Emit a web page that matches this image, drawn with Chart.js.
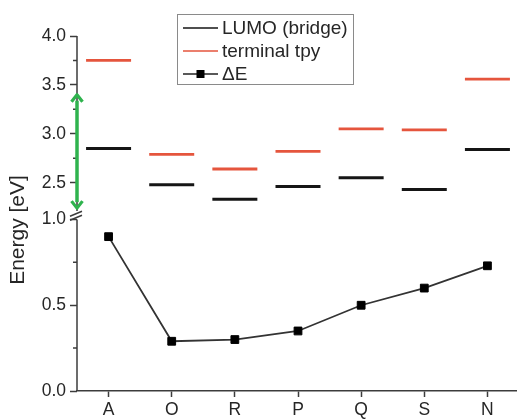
<!DOCTYPE html>
<html>
<head>
<meta charset="utf-8">
<script src="https://cdn.jsdelivr.net/npm/chart.js@4.4.0/dist/chart.umd.min.js"></script>
<style>
  html, body { margin: 0; padding: 0; background: #fff; overflow: hidden; }
  #wrap { width: 520px; height: 420px; }
</style>
</head>
<body>
<div id="wrap"><canvas id="levelChart" width="520" height="420"></canvas></div>
<script>
// ========================
// DATA
// ========================
const molecules = ['A', 'O', 'R', 'P', 'Q', 'S', 'N'];
const lumoBridge = [2.85, 2.48, 2.33, 2.46, 2.55, 2.43, 2.84];   // black levels
const terminalTpy = [3.75, 2.79, 2.64, 2.82, 3.05, 3.04, 3.56];  // red levels
const deltaE = [0.90, 0.29, 0.30, 0.35, 0.50, 0.60, 0.73];       // lower panel

// broken y axis: upper and lower panel ticks
const upperTicks = [2.5, 2.75, 3.0, 3.25, 3.5, 3.75, 4.0];
const lowerTicks = [0, 0.25, 0.5, 0.75, 1.0];

// green double arrow (upper panel values)
const arrowSpan = [3.40, 2.24];

// ========================
// STYLE
// ========================
const TEXT = '#262626';
const AXIS = '#3c3c3c';
const RED = '#e5553d';
const GREEN = '#2fb34e';
Chart.defaults.font.family = '"Liberation Sans", Arial, sans-serif';
Chart.defaults.color = TEXT;

const isMajor = v => Math.abs(v * 2 - Math.round(v * 2)) < 1e-6;

function yAxis(min, max, weight, tickList) {
  return {
    type: 'linear',
    position: 'left',
    stack: 'energy',
    stackWeight: weight,
    min: min,
    max: max,
    border: { display: false },
    grid: {
      drawOnChartArea: false,
      tickLength: 7,
      tickWidth: 1.5,
      tickColor: ctx => (ctx.tick && isMajor(ctx.tick.value)) ? AXIS : 'rgba(0,0,0,0)'
    },
    ticks: {
      autoSkip: false,
      includeBounds: false,
      padding: 4,
      font: { size: 17.5 },
      callback: v => isMajor(v) ? v.toFixed(1) : ''
    },
    afterBuildTicks: s => { s.ticks = tickList.map(v => ({ value: v })); },
    afterFit: s => { s.width = 77; }
  };
}

// ========================
// PLUGINS
// ========================
const brokenAxisPlugin = {
  id: 'brokenAxis',
  afterDraw(chart) {
    const ctx = chart.ctx;
    const yU = chart.scales.yU, yL = chart.scales.yL;
    const x = chart.chartArea.left;
    ctx.save();
    ctx.strokeStyle = AXIS;
    ctx.lineWidth = 1.5;

    // axis lines, broken between panels
    const uTop = yU.getPixelForValue(4.0), uBot = yU.getPixelForValue(2.21);
    const lTop = yL.getPixelForValue(1.0), lBot = yL.getPixelForValue(0);
    ctx.beginPath();
    ctx.moveTo(x, uTop); ctx.lineTo(x, uBot);
    ctx.moveTo(x, lTop); ctx.lineTo(x, lBot);
    ctx.stroke();

    // short minor ticks
    ctx.beginPath();
    [[yU, upperTicks], [yL, lowerTicks]].forEach(([s, list]) => {
      list.filter(v => !isMajor(v)).forEach(v => {
        const y = s.getPixelForValue(v);
        ctx.moveTo(x - 4, y); ctx.lineTo(x, y);
      });
    });
    ctx.stroke();

    // break marks
    const yb = (uBot + lTop) / 2;
    ctx.lineWidth = 1.5;
    ctx.beginPath();
    ctx.moveTo(x - 7, yb + 1); ctx.lineTo(x + 5, yb - 4);
    ctx.moveTo(x - 7, yb + 5); ctx.lineTo(x + 5, yb);
    ctx.stroke();

    // green double arrow
    const a1 = yU.getPixelForValue(arrowSpan[0]);
    const a2 = yU.getPixelForValue(arrowSpan[1]);
    ctx.strokeStyle = GREEN;
    ctx.fillStyle = GREEN;
    ctx.lineWidth = 3.5;
    ctx.beginPath();
    ctx.moveTo(x, a1 + 6); ctx.lineTo(x, a2 - 6);
    ctx.stroke();
    ctx.lineWidth = 3.2;
    ctx.lineJoin = 'round';
    ctx.beginPath();
    ctx.moveTo(x - 5.5, a1 + 7); ctx.lineTo(x, a1); ctx.lineTo(x + 5.5, a1 + 7);
    ctx.moveTo(x - 5.5, a2 - 7); ctx.lineTo(x, a2); ctx.lineTo(x + 5.5, a2 - 7);
    ctx.stroke();

    // y title
    ctx.fillStyle = TEXT;
    ctx.font = '21px "Liberation Sans", Arial, sans-serif';
    ctx.textAlign = 'center';
    ctx.textBaseline = 'middle';
    ctx.translate(18, 230);
    ctx.rotate(-Math.PI / 2);
    ctx.fillText('Energy [eV]', 0, 0);
    ctx.restore();
  }
};

const boxLegendPlugin = {
  id: 'boxLegend',
  afterDraw(chart) {
    const ctx = chart.ctx;
    const box = { x: 177.5, y: 14.5, w: 176, h: 70 };
    const rows = [28, 51, 74];
    ctx.save();
    ctx.fillStyle = '#fff';
    ctx.fillRect(box.x, box.y, box.w, box.h);
    ctx.strokeStyle = '#8a8a8a';
    ctx.lineWidth = 1;
    ctx.strokeRect(box.x, box.y, box.w, box.h);
    ctx.font = '19px "Liberation Sans", Arial, sans-serif';
    ctx.textBaseline = 'middle';
    chart.data.datasets.forEach((ds, i) => {
      const y = rows[i];
      ctx.strokeStyle = ds.legendColor;
      ctx.lineWidth = ds.legendWidth;
      ctx.beginPath();
      ctx.moveTo(183, y); ctx.lineTo(218, y);
      ctx.stroke();
      if (ds.pointStyle === 'rect') {
        ctx.fillStyle = '#000';
        ctx.fillRect(196.5, y - 4, 8, 8);
      }
      ctx.fillStyle = TEXT;
      ctx.fillText(ds.label, 222, y + 1);
    });
    ctx.restore();
  }
};

// ========================
// CHART
// ========================
new Chart(document.getElementById('levelChart'), {
  type: 'line',
  data: {
    labels: molecules,
    datasets: [
      {
        label: 'LUMO (bridge)',
        data: lumoBridge,
        yAxisID: 'yU',
        showLine: false,
        pointStyle: 'line',
        pointRadius: 22.5,
        pointBorderWidth: 3,
        pointBorderColor: '#151515',
        legendColor: '#151515',
        legendWidth: 1.5
      },
      {
        label: 'terminal tpy',
        data: terminalTpy,
        yAxisID: 'yU',
        showLine: false,
        pointStyle: 'line',
        pointRadius: 22.5,
        pointBorderWidth: 2.8,
        pointBorderColor: RED,
        legendColor: RED,
        legendWidth: 1.5
      },
      {
        label: 'ΔE',
        data: deltaE,
        yAxisID: 'yL',
        borderColor: '#333',
        borderWidth: 1.8,
        tension: 0,
        pointStyle: 'rect',
        pointRadius: 5.5,
        pointBorderWidth: 1,
        pointBackgroundColor: '#000',
        pointBorderColor: '#000',
        legendColor: '#222',
        legendWidth: 1.5
      }
    ]
  },
  options: {
    responsive: false,
    animation: false,
    events: [],
    layout: { autoPadding: false, padding: { top: 36, right: 1, left: 0, bottom: 0 } },
    plugins: {
      legend: { display: false },
      tooltip: { enabled: false }
    },
    scales: {
      x: {
        type: 'category',
        offset: true,
        border: { color: AXIS, width: 1.5 },
        grid: {
          offset: false,
          drawOnChartArea: false,
          tickLength: 6,
          tickWidth: 1.5,
          tickColor: AXIS
        },
        ticks: { padding: 3, font: { size: 17.5 } },
        afterFit: s => { s.height = 29; s.paddingLeft = 0; s.paddingRight = 0; }
      },
      // in a stack the last defined axis sits on top
      yL: yAxis(0, 1.032, 177, lowerTicks),
      yU: yAxis(2.18, 4.0, 178, upperTicks)
    }
  },
  plugins: [brokenAxisPlugin, boxLegendPlugin]
});
</script>
</body>
</html>
